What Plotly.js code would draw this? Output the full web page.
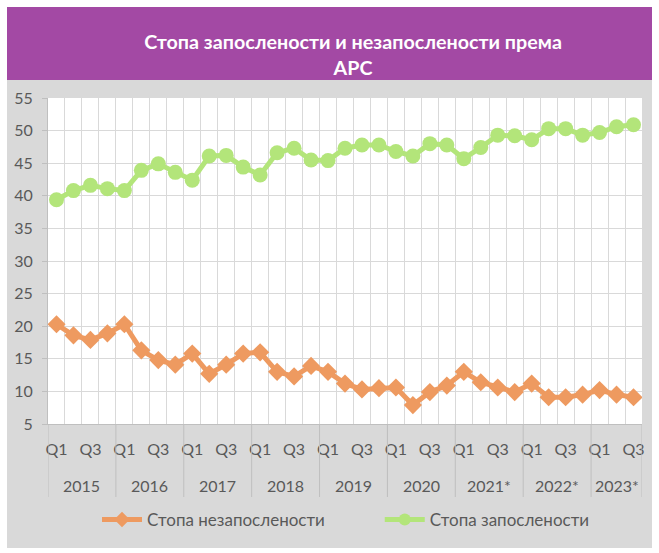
<!DOCTYPE html>
<html>
<head>
<meta charset="utf-8">
<script src="https://cdn.plot.ly/plotly-3.0.1.min.js"></script>
<style>
  html, body { margin: 0; padding: 0; background: #ffffff; width: 659px; height: 553px; overflow: hidden; }
  #wrap { position: absolute; left: 7px; top: 7px; width: 645px; height: 541px; background: #d9d9d9; }
  #band { position: absolute; left: 0; top: 0; width: 645px; height: 73px; background: #a349a4; }
  #plot { position: absolute; left: 0; top: 0; width: 645px; height: 541px; }
</style>
</head>
<body>
<div id="wrap"><div id="band"></div><div id="plot"></div></div>
<script>
// ---- data ----
const years = ['2015', '2016', '2017', '2018', '2019', '2020', '2021*', '2022*', '2023*'];
const quartersPerYear = [4, 4, 4, 4, 4, 4, 4, 4, 3];
const quarterNames = ['Q1', 'Q2', 'Q3', 'Q4'];
const shownQuarters = ['Q1', 'Q3'];
const unemploymentName = 'Стопа незапослености';
const employmentName = 'Стопа запослености';
const unemployment = [20.3, 18.6, 17.9, 18.9, 20.3, 16.3, 14.8, 14.1, 15.8, 12.7, 14.1, 15.8,
                      16.0, 13.0, 12.3, 13.9, 13.0, 11.2, 10.3, 10.5, 10.6, 7.9, 9.9, 10.9,
                      13.0, 11.4, 10.6, 9.9, 11.2, 9.1, 9.1, 9.5, 10.2, 9.5, 9.1];
const employment = [39.4, 40.8, 41.6, 41.1, 40.8, 43.9, 44.9, 43.6, 42.4, 46.1, 46.2, 44.4,
                    43.2, 46.6, 47.3, 45.5, 45.4, 47.3, 47.8, 47.8, 46.8, 46.1, 48.0, 47.8,
                    45.7, 47.4, 49.3, 49.2, 48.6, 50.3, 50.3, 49.3, 49.7, 50.6, 50.9];
const titleText = 'Стопа запослености и незапослености према<br>АРС';

// ---- derived positions ----
const quarterLabels = [];
years.forEach((y, i) => { for (let q = 0; q < quartersPerYear[i]; q++) quarterLabels.push(quarterNames[q]); });
const n = quarterLabels.length;
const xs = quarterLabels.map((_, i) => i);
const tickvals = [], ticktext = [];
quarterLabels.forEach((q, i) => { if (shownQuarters.includes(q)) { tickvals.push(i); ticktext.push(q); } });
const boundaries = [];
for (let i = 0; i <= n; i++) boundaries.push(i - 0.5);

const yearStarts = [];
let acc = 0;
quartersPerYear.forEach(c => { yearStarts.push(acc); acc += c; });
yearStarts.push(acc);

const plotH = 326;
const sepDepth = -73 / plotH;
const yearY = -61 / plotH;
const textFont = { family: 'Lato, sans-serif', size: 16, color: '#595959' };
const legendFont = { family: 'Lato, sans-serif', size: 17, color: '#595959' };
const shapes = yearStarts.map(s => ({
  type: 'line', xref: 'x', yref: 'paper', x0: s - 0.5, x1: s - 0.5, y0: 0, y1: sepDepth,
  line: { color: '#bfbfbf', width: 1 }
}));
const annotations = years.map((y, i) => ({
  text: y, xref: 'x', yref: 'paper', x: (yearStarts[i] + yearStarts[i + 1] - 1) / 2, y: yearY,
  xanchor: 'center', yanchor: 'middle', showarrow: false, font: textFont
}));

const orange = '#ee9a60';
const green = '#b3e57a';

const traces = [
  {
    x: xs, y: unemployment, name: unemploymentName, type: 'scatter', mode: 'lines+markers',
    line: { color: orange, width: 5 },
    marker: { symbol: 'diamond', size: 14, color: orange },
    legend: 'legend'
  },
  {
    x: xs, y: employment, name: employmentName, type: 'scatter', mode: 'lines+markers',
    line: { color: green, width: 5 },
    marker: { symbol: 'circle', size: 15, color: green },
    legend: 'legend2'
  }
];

const legendY = -96 / plotH;
const legendBase = {
  orientation: 'h', xref: 'paper', xanchor: 'left', y: legendY, yanchor: 'middle',
  font: legendFont, bgcolor: 'rgba(0,0,0,0)', itemwidth: 40, itemsizing: 'constant'
};

const layout = {
  width: 645, height: 541,
  margin: { l: 41, r: 10, t: 91, b: 124 },
  paper_bgcolor: 'rgba(0,0,0,0)',
  plot_bgcolor: '#ffffff',
  title: {
    text: titleText, xref: 'paper', x: 0.5135, xanchor: 'center',
    yref: 'container', y: 0.922, yanchor: 'top',
    font: { family: 'Lato, sans-serif', size: 19.7, color: '#ffffff', weight: 'bold' }
  },
  xaxis: {
    range: [-0.5, n - 0.5], tickmode: 'array', tickvals: tickvals, ticktext: ticktext,
    showgrid: false, zeroline: false, ticks: '', ticklabelstandoff: 11,
    showline: true, linecolor: '#bfbfbf', linewidth: 1,
    tickfont: textFont,
    minor: { tickmode: 'array', tickvals: boundaries, showgrid: true, gridcolor: '#d9d9d9', gridwidth: 1, ticks: '' },
    fixedrange: true
  },
  yaxis: {
    range: [5, 55], dtick: 5, tick0: 5, showgrid: true, gridcolor: '#d9d9d9', gridwidth: 1,
    zeroline: false, showline: true, linecolor: '#bfbfbf', linewidth: 1,
    ticks: 'outside', ticklen: 5, tickcolor: '#bfbfbf', ticklabelstandoff: 6,
    tickfont: textFont, fixedrange: true
  },
  legend: Object.assign({}, legendBase, { x: 0.0825 }),
  legend2: Object.assign({}, legendBase, { x: 0.5585 }),
  shapes: shapes,
  annotations: annotations,
  showlegend: true
};

Plotly.newPlot('plot', traces, layout, { displayModeBar: false, staticPlot: true });
</script>
</body>
</html>
